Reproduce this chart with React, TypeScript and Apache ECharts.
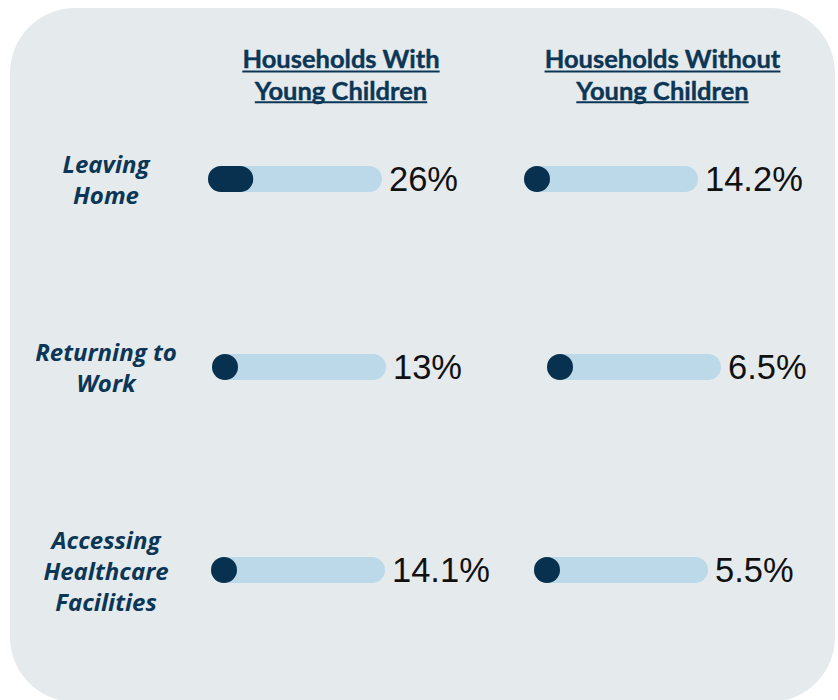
import React, { useEffect, useRef } from "react";
import * as echarts from "echarts";

// ---- data ----
const headerWith = ["Households With", "Young Children"];
const headerWithout = ["Households Without", "Young Children"];
const categories = ["Leaving\nHome", "Returning to\nWork", "Accessing\nHealthcare\nFacilities"];
const withChildren = [26, 13, 14.1];
const withoutChildren = [14.2, 6.5, 5.5];
const trackMax = 100;

// ---- layout ----
const W = 838;
const H = 700;
const ROW_TOP = [166, 354, 557];
const CELL_LEFT = [
  [208, 524],
  [212, 547],
  [211, 534],
];
const TRACK_W = 174;
const TRACK_H = 26;
const LABEL_CX = 106;
const HEADER_CX = [341, 662.5];
const HEADER_Y = [58, 89.5];
const UNDERLINE_Y = [71.5, 102.2];

const NAVY = "#0b3656";
const FILL = "#08314f";
const TRACK = "#bcd9ea";
const BG = "#e5eaed";
const HEADER_FONT = "bold 25.5px Lato";

function measure(text: string, font: string): number {
  const c = document.createElement("canvas").getContext("2d");
  if (!c) return text.length * 12;
  c.font = font;
  return c.measureText(text).width;
}

export default function App() {
  const ref = useRef<HTMLDivElement>(null);
  useEffect(() => {
    if (!ref.current) return;
    const chart = echarts.init(ref.current, undefined, { renderer: "svg" });
    const cols = [withChildren, withoutChildren];
    const grids: any[] = [];
    const xAxes: any[] = [];
    const yAxes: any[] = [];
    const series: any[] = [];
    for (let r = 0; r < categories.length; r++) {
      for (let c = 0; c < 2; c++) {
        const idx = grids.length;
        grids.push({ left: CELL_LEFT[r][c], top: ROW_TOP[r], width: TRACK_W, height: TRACK_H, containLabel: false });
        xAxes.push({ gridIndex: idx, type: "value", min: 0, max: trackMax, show: false });
        yAxes.push({
          gridIndex: idx,
          type: "category",
          data: [categories[r]],
          axisLine: { show: false },
          axisTick: { show: false },
          splitLine: { show: false },
          axisLabel: {
            show: c === 0,
            margin: CELL_LEFT[r][c] - LABEL_CX,
            align: "center",
            fontFamily: "Open Sans",
            fontWeight: "bold",
            fontStyle: "italic",
            fontSize: 24,
            lineHeight: 31,
            padding: [0, 0, 4, 0],
            color: NAVY,
          },
        });
        const v = cols[c][r];
        series.push({
          type: "bar",
          xAxisIndex: idx,
          yAxisIndex: idx,
          data: [trackMax],
          barWidth: TRACK_H,
          silent: true,
          z: 2,
          itemStyle: { color: TRACK, borderRadius: TRACK_H / 2 },
          label: {
            show: true,
            position: "right",
            distance: 7,
            formatter: () => `${v}%`,
            fontFamily: "Liberation Sans",
            fontSize: 34.5,
            color: "#111111",
          },
        });
        series.push({
          type: "custom",
          xAxisIndex: idx,
          yAxisIndex: idx,
          z: 3,
          silent: true,
          encode: { x: 0, y: 1 },
          data: [[v, 0]],
          renderItem: (params: any, api: any) => {
            const start = api.coord([0, api.value(1)]);
            const end = api.coord([api.value(0), api.value(1)]);
            const h = TRACK_H;
            const w = Math.max(end[0] - start[0], h);
            return {
              type: "rect",
              shape: { x: start[0], y: start[1] - h / 2, width: w, height: h, r: h / 2 },
              style: { fill: FILL },
            };
          },
        });
      }
    }

    const graphic: any[] = [
      {
        type: "rect",
        z: -10,
        shape: { x: 10, y: 8, width: 825, height: 694, r: 65 },
        style: { fill: BG },
        silent: true,
      },
    ];
    [headerWith, headerWithout].forEach((lines, c) => {
      lines.forEach((line, i) => {
        graphic.push({
          type: "text",
          x: HEADER_CX[c],
          y: HEADER_Y[i],
          style: {
            text: line,
            font: HEADER_FONT,
            fill: NAVY,
            stroke: NAVY,
            lineWidth: 0.4,
            align: "center",
            verticalAlign: "middle",
            textAlign: "center",
            textVerticalAlign: "middle",
          },
        });
        const w = measure(line, HEADER_FONT);
        graphic.push({
          type: "line",
          shape: { x1: HEADER_CX[c] - w / 2, y1: UNDERLINE_Y[i], x2: HEADER_CX[c] + w / 2, y2: UNDERLINE_Y[i] },
          style: { stroke: NAVY, lineWidth: 2 },
        });
      });
    });

    chart.setOption({
      animation: false,
      backgroundColor: "#ffffff",
      grid: grids,
      xAxis: xAxes,
      yAxis: yAxes,
      series,
      graphic,
    });
    return () => chart.dispose();
  }, []);
  return <div ref={ref} style={{ position: "absolute", left: 0, top: 0, width: W, height: H }} />;
}
